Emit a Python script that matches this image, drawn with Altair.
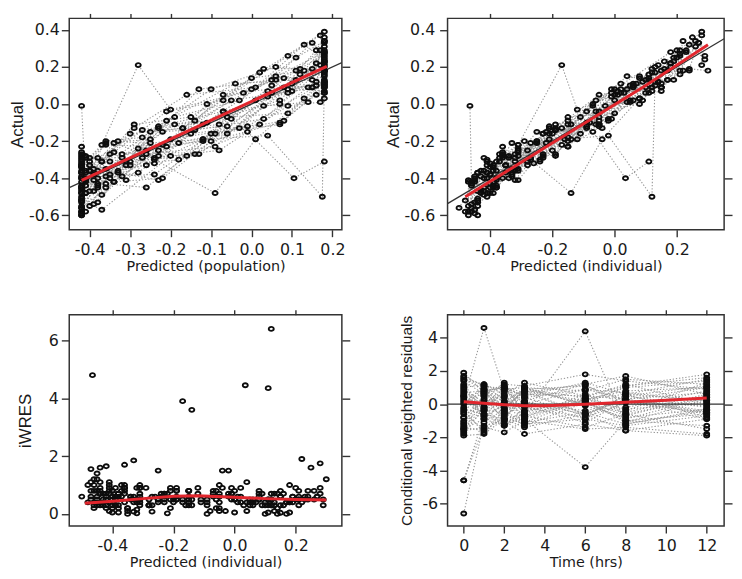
import altair as alt
import pandas as pd

TIMES = [0, 1, 2, 3, 6, 8, 12]

# population predictions, one row per subject (7 sampling times)
PRED = [
    [-0.42, -0.41, -0.33, -0.22, -0.05, 0.10, 0.18],
    [-0.42, -0.39, -0.28, -0.15, 0.02, 0.14, 0.18],
    [-0.42, -0.40, -0.36, -0.27, -0.10, 0.06, 0.18],
    [-0.42, -0.35, -0.24, -0.12, 0.06, 0.16, 0.18],
    [-0.42, -0.41, -0.38, -0.31, -0.17, 0.00, 0.18],
    [-0.42, -0.37, -0.20, -0.08, 0.09, 0.17, 0.18],
    [-0.42, -0.40, -0.31, -0.19, -0.03, 0.11, 0.18],
    [-0.42, -0.38, -0.26, -0.14, 0.04, 0.15, 0.18],
    [-0.42, -0.41, -0.35, -0.25, -0.08, 0.08, 0.18],
    [-0.42, -0.34, -0.22, -0.10, 0.07, 0.16, 0.18],
    [-0.42, -0.41, -0.37, -0.29, -0.15, 0.02, 0.18],
    [-0.42, -0.38, -0.22, -0.06, 0.10, 0.17, 0.18],
    [-0.42, -0.41, -0.32, -0.21, -0.04, 0.11, 0.18],
    [-0.42, -0.39, -0.27, -0.13, 0.03, 0.14, 0.18],
    [-0.42, -0.40, -0.34, -0.24, -0.07, 0.07, 0.18],
    [-0.42, -0.36, -0.25, -0.13, 0.05, 0.15, 0.18],
    [-0.42, -0.41, -0.38, -0.30, -0.16, 0.01, 0.18],
    [-0.42, -0.36, -0.19, -0.05, 0.11, 0.17, 0.18],
    [-0.42, -0.40, -0.32, -0.20, -0.03, 0.12, 0.18],
    [-0.42, -0.38, -0.27, -0.14, 0.03, 0.15, 0.18],
    [-0.42, -0.41, -0.36, -0.26, -0.09, 0.07, 0.18],
    [-0.42, -0.35, -0.23, -0.11, 0.07, 0.16, 0.18],
    [-0.42, -0.41, -0.39, -0.32, -0.18, -0.01, 0.18],
    [-0.42, -0.36, -0.21, -0.07, 0.08, 0.16, 0.18],
    [-0.42, -0.41, -0.33, -0.23, -0.06, 0.09, 0.18],
    [-0.42, -0.39, -0.29, -0.16, 0.01, 0.13, 0.18],
    [-0.42, -0.40, -0.35, -0.26, -0.09, 0.05, 0.18],
    [-0.42, -0.34, -0.23, -0.11, 0.06, 0.15, 0.18],
    [-0.42, -0.41, -0.34, -0.23, -0.06, 0.09, 0.18],
    [-0.42, -0.37, -0.28, -0.20, -0.02, 0.12, 0.18],
    [-0.42, -0.38, -0.24, -0.09, 0.01, 0.13, 0.18],
    [-0.42, -0.39, -0.26, -0.12, 0.04, 0.175, 0.18],
    [-0.42, -0.40, -0.31, -0.18, -0.01, 0.105, 0.18],
    [-0.42, -0.41, -0.36, -0.28, -0.12, 0.04, 0.18],
    [-0.42, -0.39, -0.30, -0.17, 0.00, 0.13, 0.18],
    [-0.42, -0.36, -0.24, -0.10, 0.08, 0.16, 0.18],
    [-0.42, -0.40, -0.33, -0.23, -0.07, 0.09, 0.18],
    [-0.42, -0.37, -0.21, -0.07, 0.09, 0.17, 0.18],
    [-0.42, -0.41, -0.37, -0.30, -0.14, 0.03, 0.18],
    [-0.42, -0.38, -0.25, -0.12, 0.05, 0.15, 0.18],
]

# individual predictions
IPRED = [
    [-0.40, -0.38, -0.29, -0.17, 0.00, 0.15, 0.23],
    [-0.46, -0.45, -0.35, -0.23, -0.06, 0.06, 0.10],
    [-0.36, -0.32, -0.25, -0.15, 0.02, 0.18, 0.30],
    [-0.43, -0.36, -0.26, -0.14, 0.04, 0.14, 0.16],
    [-0.42, -0.41, -0.38, -0.31, -0.17, 0.00, 0.18],
    [-0.48, -0.45, -0.31, -0.20, -0.03, 0.05, 0.06],
    [-0.38, -0.34, -0.24, -0.11, 0.05, 0.19, 0.26],
    [-0.45, -0.42, -0.31, -0.19, -0.01, 0.10, 0.13],
    [-0.41, -0.39, -0.32, -0.22, -0.05, 0.11, 0.21],
    [-0.50, -0.45, -0.36, -0.25, -0.08, 0.01, 0.03],
    [-0.37, -0.34, -0.28, -0.19, -0.05, 0.12, 0.28],
    [-0.44, -0.40, -0.25, -0.09, 0.07, 0.14, 0.15],
    [-0.39, -0.37, -0.27, -0.15, 0.02, 0.17, 0.24],
    [-0.47, -0.46, -0.36, -0.23, -0.07, 0.04, 0.08],
    [-0.41, -0.39, -0.33, -0.23, -0.06, 0.08, 0.19],
    [-0.35, -0.27, -0.14, -0.01, 0.17, 0.27, 0.29],
    [-0.46, -0.46, -0.44, -0.37, -0.23, -0.06, 0.11],
    [-0.40, -0.33, -0.15, -0.01, 0.15, 0.21, 0.22],
    [-0.42, -0.41, -0.33, -0.21, -0.04, 0.11, 0.17],
    [-0.38, -0.32, -0.19, -0.05, 0.12, 0.24, 0.27],
    [-0.47, -0.48, -0.46, -0.38, -0.21, -0.05, 0.06],
    [-0.41, -0.34, -0.21, -0.09, 0.09, 0.18, 0.20],
    [-0.44, -0.44, -0.43, -0.36, -0.22, -0.05, 0.14],
    [-0.39, -0.31, -0.15, 0.00, 0.15, 0.23, 0.25],
    [-0.47, -0.47, -0.41, -0.32, -0.15, 0.00, 0.09],
    [-0.36, -0.31, -0.19, -0.05, 0.12, 0.24, 0.29],
    [-0.45, -0.44, -0.40, -0.32, -0.15, -0.01, 0.12],
    [-0.40, -0.31, -0.19, -0.07, 0.10, 0.19, 0.22],
    [-0.465, -0.46, -0.39, -0.28, -0.11, 0.04, 0.13],
    [-0.41, -0.31, -0.17, -0.12, 0.02, 0.16, 0.21],
    [-0.44, -0.40, -0.27, -0.14, -0.04, 0.08, 0.12],
    [-0.43, -0.40, -0.28, -0.16, -0.02, 0.12, 0.13],
    [-0.44, -0.42, -0.35, -0.24, -0.07, 0.035, 0.11],
    [-0.44, -0.43, -0.39, -0.31, -0.15, 0.01, 0.15],
    [-0.38, -0.33, -0.23, -0.09, 0.08, 0.21, 0.26],
    [-0.47, -0.43, -0.33, -0.20, -0.02, 0.06, 0.08],
    [-0.41, -0.39, -0.31, -0.21, -0.05, 0.11, 0.20],
    [-0.36, -0.28, -0.09, 0.06, 0.21, 0.28, 0.28],
    [-0.45, -0.45, -0.42, -0.35, -0.19, -0.02, 0.13],
    [-0.42, -0.38, -0.25, -0.12, 0.05, 0.15, 0.18],
]

# observed values (Actual)
DV = [
    [-0.34, -0.41, -0.20, -0.22, 0.02, 0.07, 0.28],
    [-0.56, -0.41, -0.37, -0.16, -0.11, 0.09, 0.06],
    [-0.28, -0.36, -0.20, -0.18, 0.08, 0.20, 0.18],
    [-0.48, -0.27, -0.32, -0.11, 0.15, 0.12, 0.23],
    [-0.29, -0.48, -0.36, -0.41, -0.13, 0.08, 0.28],
    [-0.52, -0.57, -0.28, -0.25, -0.01, 0.01, 0.11],
    [-0.40, -0.29, -0.31, -0.07, 0.02, 0.25, 0.34],
    [-0.59, -0.40, -0.25, -0.27, 0.04, 0.09, 0.17],
    [-0.37, -0.48, -0.31, -0.15, -0.11, 0.14, 0.16],
    [-0.56, -0.42, -0.40, -0.20, -0.10, 0.05, 0.06],
    [-0.27, -0.28, -0.31, -0.11, -0.07, 0.17, 0.39],
    [-0.37, -0.45, -0.15, -0.12, 0.11, 0.21, 0.09],
    [-0.44, -0.29, -0.29, -0.09, 0.11, 0.13, 0.18],
    [-0.42, -0.54, -0.29, -0.27, -0.01, 0.01, 0.15],
    [-0.50, -0.36, -0.21, -0.29, -0.04, 0.00, 0.23],
    [-0.33, -0.21, -0.19, 0.08, 0.13, 0.33, 0.26],
    [-0.58, -0.42, -0.53, -0.31, -0.28, 0.02, 0.13],
    [-0.32, -0.35, -0.11, -0.08, 0.18, 0.29, 0.18],
    [-0.45, -0.31, -0.39, -0.19, -0.13, 0.16, 0.18],
    [-0.45, -0.29, -0.14, -0.09, 0.19, 0.19, 0.33],
    [-0.60, -0.58, -0.43, -0.45, -0.16, -0.11, 0.10],
    [-0.30, -0.40, -0.13, -0.10, 0.02, 0.22, 0.29],
    [-0.60, -0.37, -0.47, -0.27, -0.21, -0.12, 0.12],
    [-0.34, -0.22, -0.23, 0.05, 0.09, 0.29, 0.36],
    [-0.58, -0.41, -0.37, -0.41, -0.07, -0.05, 0.12],
    [-0.23, -0.35, -0.13, 0.05, 0.09, 0.32, 0.24],
    [-0.39, -0.55, -0.38, -0.27, -0.23, 0.06, 0.09],
    [-0.48, -0.26, -0.28, 0.00, 0.13, 0.13, 0.34],
    [-0.01, -0.44, -0.42, -0.25, -0.16, 0.08, 0.10],
    [-0.33, -0.22, 0.21, -0.03, 0.06, 0.19, 0.27],
    [-0.52, -0.43, -0.30, -0.48, -0.19, 0.03, 0.07],
    [-0.46, -0.38, -0.33, -0.19, -0.17, -0.50, 0.12],
    [-0.51, -0.47, -0.33, -0.30, -0.15, -0.40, -0.31],
    [-0.47, -0.36, -0.45, -0.24, -0.20, 0.07, 0.11],
    [-0.31, -0.37, -0.16, -0.13, 0.14, 0.18, 0.31],
    [-0.55, -0.39, -0.38, -0.16, -0.09, 0.10, 0.03],
    [-0.40, -0.33, -0.36, -0.12, -0.04, 0.06, 0.25],
    [-0.26, -0.31, -0.04, 0.02, 0.26, 0.37, 0.21],
    [-0.53, -0.40, -0.49, -0.33, -0.14, -0.08, 0.20],
    [-0.36, -0.44, -0.21, -0.19, 0.10, 0.09, 0.22],
]

# absolute individual weighted residuals
IWRES = [
    [0.6, 0.3, 0.9, 0.5, 0.05, 0.8, 0.5],
    [1.0, 0.4, 0.0, 0.7, 0.5, 0.3, 0.4],
    [0.8, 0.4, 0.5, 0.3, 0.6, 0.05, 1.2],
    [0.5, 0.9, 0.6, 0.3, 1.1, 0.0, 0.7],
    [1.65, 0.7, 0.2, 1.0, 0.4, 0.8, 1.0],
    [0.4, 1.2, 0.3, 0.5, 0.1, 0.4, 0.5],
    [0.05, 0.5, 0.7, 0.4, 0.3, 0.6, 0.8],
    [1.4, 0.2, 0.6, 0.8, 0.5, 0.0, 0.4],
    [0.4, 0.9, 0.02, 0.7, 0.6, 0.3, 0.5],
    [0.6, 0.3, 0.4, 0.5, 0.1, 0.4, 0.3],
    [1.0, 0.6, 0.3, 0.8, 0.2, 0.5, 1.75],
    [0.7, 0.5, 1.5, 0.3, 0.4, 0.7, 0.6],
    [0.5, 0.8, 0.08, 0.6, 0.9, 0.4, 0.6],
    [0.5, 0.8, 0.7, 0.4, 0.6, 0.1, 0.7],
    [0.9, 0.3, 1.85, 0.6, 0.2, 0.8, 0.4],
    [0.1, 0.6, 0.5, 0.9, 0.4, 0.6, 0.3],
    [1.2, 0.4, 0.9, 0.6, 0.5, 0.8, 0.05],
    [0.8, 0.08, 0.4, 0.7, 0.3, 0.8, 0.4],
    [0.3, 1.0, 0.6, 0.2, 0.9, 0.5, 0.0],
    [0.7, 0.15, 0.5, 0.4, 0.7, 0.5, 0.6],
    [1.55, 1.0, 0.3, 0.7, 0.5, 0.6, 0.4],
    [1.1, 0.6, 0.8, 0.0, 0.7, 0.4, 0.9],
    [1.6, 0.7, 0.4, 0.9, 0.02, 0.7, 0.2],
    [0.5, 0.9, 0.8, 0.5, 0.6, 0.6, 1.6],
    [1.1, 0.6, 0.4, 0.9, 0.8, 0.5, 0.3],
    [1.7, 0.4, 0.6, 1.0, 0.3, 0.8, 0.5],
    [0.6, 1.1, 0.05, 0.5, 0.8, 0.7, 0.3],
    [0.8, 0.5, 0.9, 0.7, 0.3, 0.6, 1.9],
    [4.8, 0.2, 0.3, 0.3, 0.5, 0.4, 0.3],
    [0.8, 0.9, 3.9, 0.9, 0.4, 0.3, 0.6],
    [0.8, 0.3, 0.3, 3.6, 1.5, 0.5, 0.5],
    [0.3, 0.2, 0.5, 0.3, 1.5, 6.4, 0.1],
    [0.7, 0.5, 0.2, 0.6, 0.8, 4.45, 4.35],
    [0.3, 0.7, 0.6, 0.7, 0.5, 0.6, 0.04],
    [0.7, 0.4, 0.7, 0.4, 0.6, 0.3, 0.5],
    [0.8, 0.4, 0.5, 0.4, 0.7, 0.4, 0.5],
    [0.1, 0.6, 0.5, 0.9, 0.1, 0.5, 0.5],
    [1.0, 0.3, 0.5, 0.4, 0.5, 0.9, 0.7],
    [0.8, 0.5, 0.7, 0.2, 0.5, 0.6, 0.7],
    [0.6, 0.6, 0.4, 0.7, 0.5, 0.6, 0.4],
]

# conditional weighted residuals
CWRES = [
    [0.6, -0.3, 1.0, -0.4, 0.2, -0.7, 0.5],
    [-1.2, 0.5, -0.3, 0.8, -0.6, 0.3, -0.5],
    [1.4, 0.6, 1.1, 0.4, 0.9, 0.7, 0.2],
    [-0.5, 0.9, -0.7, 0.2, 1.2, -0.2, 0.8],
    [1.1, -0.9, 0.1, -1.1, 0.3, 0.8, 1.0],
    [-1.4, -1.6, -0.8, -1.2, -0.9, -1.3, -0.7],
    [0.3, 0.9, -0.2, 0.8, 0.2, 1.0, 1.4],
    [-1.8, -0.2, 0.4, -0.9, 0.3, -0.3, 0.1],
    [0.4, -0.8, 0.0, 0.7, -0.6, 0.3, -0.4],
    [-1.6, -1.4, -1.7, -1.0, -1.5, -1.4, -1.8],
    [1.5, 1.2, 0.6, 1.3, 0.5, 1.1, 1.8],
    [0.5, -0.6, 0.9, -0.4, 0.3, 0.6, -0.8],
    [-0.2, 1.0, 0.1, 0.9, 1.1, 0.2, -0.1],
    [-0.6, -1.5, -0.4, -1.1, -0.5, -1.2, -0.3],
    [-1.0, 0.2, 1.3, -0.7, 0.1, -0.9, 0.4],
    [1.7, 1.1, 0.9, 1.0, 0.8, 1.5, 1.2],
    [-1.5, -0.4, -1.3, -0.2, -0.8, 0.1, -0.5],
    [0.9, 0.1, 0.5, -0.5, 0.4, 1.2, 0.0],
    [0.0, 1.1, -0.5, 0.2, -0.9, 0.6, 0.2],
    [0.7, 0.8, 1.0, 0.5, 1.3, 0.6, 1.5],
    [-1.9, -1.8, -0.9, -1.4, -0.6, -1.6, -0.9],
    [1.2, -0.4, 0.8, 0.1, -0.6, 0.5, 1.1],
    [-1.7, 0.6, -0.6, 1.0, -0.1, -0.8, -0.3],
    [1.0, 1.2, 0.2, 0.9, 0.0, 1.1, 1.6],
    [-1.3, -0.3, -0.5, -1.3, 0.1, -1.0, -0.6],
    [1.9, 0.7, 1.2, 1.1, 1.8, 1.4, 0.9],
    [-0.4, -1.7, -0.6, -0.1, -1.1, 0.2, -0.9],
    [-0.8, 0.5, -1.0, 0.9, 0.4, -0.4, 1.3],
    [-6.6, -1.1, -0.3, 0.1, -0.4, 0.2, -0.6],
    [0.2, 4.6, 0.8, 0.6, 0.5, 0.3, 0.7],
    [-4.6, -0.7, -1.2, -0.9, -3.8, -1.0, -1.3],
    [-0.3, -0.6, -0.9, -0.6, 4.4, -1.2, -0.4],
    [-4.6, -1.3, -1.0, -1.8, -1.2, -1.6, -1.9],
    [-0.8, 0.3, -0.9, 0.4, -0.7, 0.5, -0.2],
    [0.8, -0.1, 1.1, 0.0, 0.9, 0.3, 1.0],
    [-1.5, -0.9, -1.3, -0.7, -1.4, -0.6, -1.5],
    [0.1, 0.7, -0.4, 1.0, 0.0, -0.5, 0.6],
    [1.6, 0.8, 1.0, 0.7, 1.2, 1.7, 0.6],
    [-1.1, -0.2, -1.2, -0.6, 0.2, -1.1, 0.3],
    [0.5, -0.7, 0.5, -0.8, 0.6, -0.6, 0.4],
]

# smooth (red) curves
LOESS1_X = [-0.42, 0.186]
LOESS1_Y = [-0.412, 0.203]
LOESS2_X = [-0.48, -0.2, 0.1, 0.30]
LOESS2_Y = [-0.50, -0.21, 0.10, 0.32]
LOESS3_X = [-0.49, -0.40, -0.30, -0.20, -0.12, 0.00, 0.10, 0.20, 0.30]
LOESS3_Y = [0.37, 0.44, 0.53, 0.61, 0.63, 0.58, 0.53, 0.50, 0.48]
LOESS4_X = [0, 1, 2, 3, 4, 6, 8, 10, 12]
LOESS4_Y = [0.14, 0.05, -0.03, -0.10, -0.09, 0.00, 0.12, 0.24, 0.37]

rows = []
for s in range(len(PRED)):
    for k, t in enumerate(TIMES):
        rows.append({"id": s, "k": k, "time": t, "pred": PRED[s][k],
                     "ipred": IPRED[s][k], "dv": DV[s][k],
                     "iwres": IWRES[s][k], "cwres": CWRES[s][k]})
df = pd.DataFrame(rows)

MINUS = "\u2212"
ELLIPSE = "M-1.2,0A1.2,0.95,0,1,0,1.2,0A1.2,0.95,0,1,0,-1.2,0Z"


def lab(fmt):
    return "replace(format(datum.value, '" + fmt + "'), '" + MINUS + "', '-')"


def panel(xf, yf, xdom, ydom, xticks, yticks, xfmt, yfmt, xtitle, ytitle,
          lx, ly, w, h, lines=True, identity=False, zero=False, ylp=2, ytp=2, ytfs=17):
    xs = alt.Scale(domain=xdom, nice=False, zero=False)
    ys = alt.Scale(domain=ydom, nice=False, zero=False)
    ax_b = alt.Axis(orient="bottom", values=xticks, labelExpr=lab(xfmt), title=xtitle,
                    tickSize=7)
    ax_l = alt.Axis(orient="left", values=yticks, labelExpr=lab(yfmt), title=ytitle,
                    labelPadding=ylp, titlePadding=ytp, tickSize=8,
                    titleFont="Liberation Sans", titleFontSize=ytfs)
    ax_t = alt.Axis(orient="top", values=xticks, labels=False, title=None, tickSize=5)
    ax_r = alt.Axis(orient="right", values=yticks, labels=False, title=None, tickSize=8)
    layers = []
    if lines:
        layers.append(alt.Chart(df).mark_line(color="#959595", strokeWidth=1.1,
                                              strokeDash=[1.3, 1.9], clip=True).encode(
            x=alt.X(xf, type="quantitative", scale=xs, axis=None),
            y=alt.Y(yf, type="quantitative", scale=ys, axis=None),
            detail="id:N", order="k:O"))
    if identity:
        idf = pd.DataFrame({"a": xdom, "b": xdom})
        layers.append(alt.Chart(idf).mark_line(color="#333333", strokeWidth=1.3, clip=True).encode(
            x=alt.X("a:Q", scale=xs, axis=None), y=alt.Y("b:Q", scale=ys, axis=None)))
    if zero:
        zdf = pd.DataFrame({"b": [0]})
        layers.append(alt.Chart(zdf).mark_rule(color="#333333", strokeWidth=1.3).encode(
            y=alt.Y("b:Q", scale=ys, axis=None)))
    layers.append(alt.Chart(df).mark_point(shape=ELLIPSE, filled=False, color="#0d0d0d",
                                           strokeWidth=1.9, size=18, opacity=1, clip=True).encode(
        x=alt.X(xf, type="quantitative", scale=xs, axis=ax_b),
        y=alt.Y(yf, type="quantitative", scale=ys, axis=ax_l)))
    ldf = pd.DataFrame({"a": lx, "b": ly})
    layers.append(alt.Chart(ldf).mark_line(color="#e1262d", strokeWidth=3, clip=True).encode(
        x=alt.X("a:Q", scale=xs, axis=ax_t), y=alt.Y("b:Q", scale=ys, axis=ax_r)))
    return alt.layer(*layers).resolve_axis(x="independent", y="independent").properties(
        width=w, height=h)


p1 = panel("pred", "dv", [-0.4505, 0.2233], [-0.678, 0.462],
           [-0.4, -0.3, -0.2, -0.1, 0.0, 0.1, 0.2], [-0.6, -0.4, -0.2, 0.0, 0.2, 0.4],
           ".1f", ".1f", "Predicted (population)", "Actual",
           LOESS1_X, LOESS1_Y, 276, 214, lines=True, identity=True, ylp=2, ytp=2)
p2 = panel("ipred", "dv", [-0.537, 0.352], [-0.678, 0.462],
           [-0.4, -0.2, 0.0, 0.2], [-0.6, -0.4, -0.2, 0.0, 0.2, 0.4],
           ".1f", ".1f", "Predicted (individual)", "Actual",
           LOESS2_X, LOESS2_Y, 280, 214, lines=True, identity=True, ylp=5, ytp=1)
p3 = panel("ipred", "iwres", [-0.541, 0.351], [-0.42, 6.89],
           [-0.4, -0.2, 0.0, 0.2], [0, 2, 4, 6],
           ".1f", "d", "Predicted (individual)", "iWRES",
           LOESS3_X, LOESS3_Y, 276, 214, lines=False, ylp=3, ytp=14)
p4 = panel("time", "cwres", [-0.8, 12.86], [-7.36, 5.40],
           [0, 2, 4, 6, 8, 10, 12], [-6, -4, -2, 0, 2, 4],
           "d", "d", "Time (hrs)", "Conditional weighted residuals",
           LOESS4_X, LOESS4_Y, 280, 214, lines=True, zero=True, ylp=2, ytp=8, ytfs=15.7)

chart = alt.concat(p1, p2, p3, p4, columns=2, spacing={"row": 34, "column": 33}).properties(
    padding=0, background="white"
).configure_view(
    stroke="#333333", strokeWidth=1.5
).configure_axis(
    domain=False, grid=False, tickColor="#333333", tickWidth=1.4,
    labelFont="DejaVu Sans", labelFontSize=16, labelColor="#1a1a1a",
    titleFont="DejaVu Sans", titleFontSize=14.5, titleFontWeight="normal",
    titleColor="#1a1a1a", labelFlush=False, labelOverlap=False,
    labelPadding=5, titlePadding=2
)

chart.save("out.html", embed_options={"renderer": "svg", "actions": False})
